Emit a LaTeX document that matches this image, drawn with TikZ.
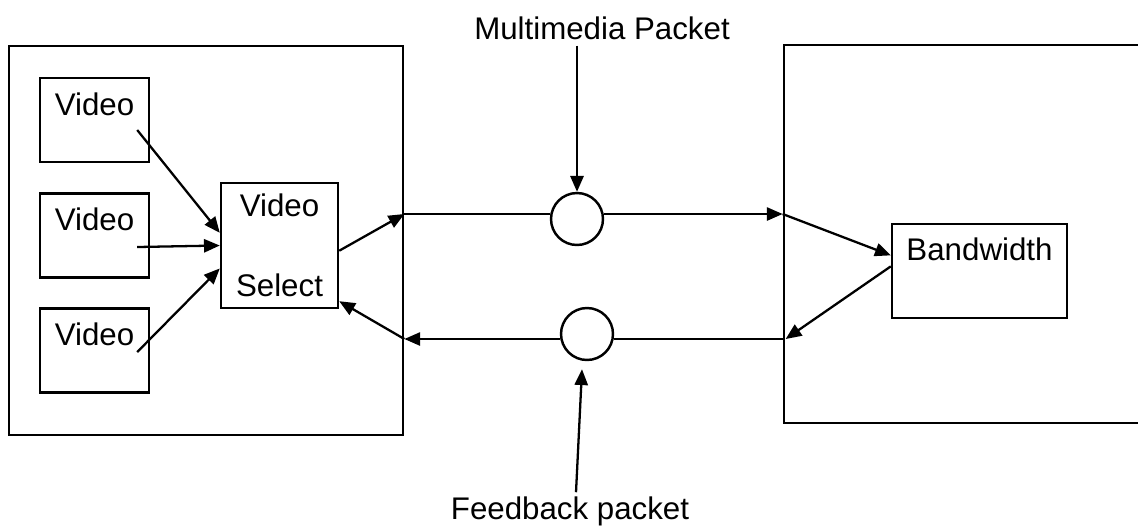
\documentclass[tikz,border=0pt]{standalone}
\usepackage{fontspec}
\setmainfont{Liberation Sans}
\usetikzlibrary{arrows.meta,positioning,calc}

\begin{document}
\begin{tikzpicture}[
    x=0.02cm, y=-0.02cm,
    every node/.style={font=\fontsize{17.8}{21}\selectfont},
    frame/.style={rectangle, draw, line width=1.6pt, inner sep=0pt, minimum width=#1},
    vidbox/.style={rectangle, draw, line width=1.4pt, inner sep=0pt, minimum width=2.18cm, text height=0.74cm, text depth=0.94cm},
    selbox/.style={rectangle, draw, line width=1.4pt, inner sep=0pt, minimum width=2.34cm, minimum height=2.5cm, align=center},
    bwbox/.style={rectangle, draw, line width=1.4pt, inner sep=0pt, minimum width=3.5cm, text height=0.72cm, text depth=1.16cm},
    packet/.style={circle, draw, line width=1.4pt, inner sep=0pt, minimum size=1.04cm},
    link/.style={line width=1.3pt},
    arrow/.style={link, -{Triangle[length=9pt,width=7.5pt]}}
]
    \useasboundingbox (0,0) rectangle (1138,529);

    % sender and receiver
    \node[frame=7.88cm, minimum height=7.78cm] (snd) at (206,240.5) {};
    \node[frame=7.32cm, minimum height=7.56cm] (rcv) at (967,234) {};

    % video sources and the selector
    \node[vidbox] (v1) at (94.5,120) {Video};
    \node[vidbox] (v2) at (94.5,235.5) {Video};
    \node[vidbox] (v3) at (94.5,350.5) {Video};
    \node[selbox] (sel) at (279.5,245.5) {Video\\[0.86cm]Select};
    \node[bwbox] (bw) at (979.5,271) {Bandwidth};

    % packets on the channel
    \node[packet] (mpk) at (577,219) {};
    \node[packet] (fpk) at (587,334) {};
    \node (mmtxt) at (602,28) {Multimedia Packet};
    \node (fbtxt) at (570,511) {Feedback packet};

    \coordinate (outL) at (snd.east |- 0,214);
    \coordinate (outR) at (rcv.west |- 0,214);
    \coordinate (inR) at (rcv.west |- 0,339);
    \coordinate (inL) at (snd.east |- 0,339);

    \draw[arrow] ($(v1.east)+(-13,10)$) -- (sel.168);
    \draw[arrow] ($(v2.east)+(-13,11.5)$) -- (sel.west);
    \draw[arrow] ($(v3.east)+(-13,1.5)$) -- (sel.-159);
    \draw[arrow] (sel.-5) -- (outL);

    % forward channel
    \draw[link] (outL) -- (mpk.west |- outL);
    \draw[arrow] (mpk.east |- outL) -- (outR);
    \draw[arrow] (outR) -- (bw.170);
    \draw[arrow] (bw.177) -- ($(inR)+(3,0)$);

    % feedback channel
    \draw[link] (inR) -- (fpk.east |- inR);
    \draw[arrow] (fpk.west |- inR) -- (inL);
    \draw[arrow] (inL) -- (sel.-43);

    \draw[arrow] (mpk.north |- mmtxt.south) -- (mpk.north);
    \draw[arrow] ($(fbtxt.north)+(6,2)$) -- ($(fpk.south)+(-5,8)$);
\end{tikzpicture}
\end{document}
